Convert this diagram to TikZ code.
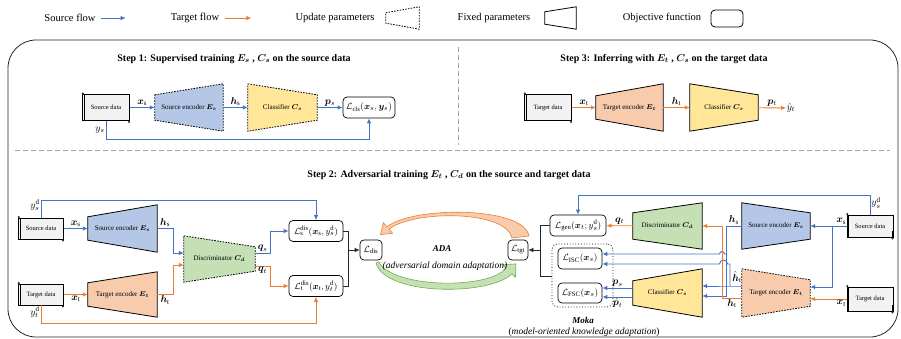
\documentclass[tikz,border=0pt]{standalone}
\usepackage{fontspec}
\setmainfont{Liberation Serif}
\usepackage{amsmath,bm}
\usetikzlibrary{arrows.meta,backgrounds}

\definecolor{sblue}{RGB}{68,114,196}
\definecolor{torange}{RGB}{237,125,49}
\definecolor{encblue}{RGB}{180,199,231}
\definecolor{encorange}{RGB}{248,203,173}
\definecolor{clsyellow}{RGB}{255,230,153}
\definecolor{discgreen}{RGB}{197,224,180}
\definecolor{adagreen}{RGB}{112,173,71}
\definecolor{datafill}{RGB}{242,242,242}

\newcommand{\fsz}[1]{\fontsize{#1}{#1}\selectfont}
% trapezoid behind a named node: #2 = inset of the left side, #3 = inset of the right side
\newcommand{\trapbox}[4]{\draw[#4] ([yshift=-#2]#1.north west) -- ([yshift=-#3]#1.north east) -- ([yshift=#3]#1.south east) -- ([yshift=#2]#1.south west) -- cycle;}
% paper roll look of a data box
\newcommand{\scrollcurl}[1]{%
  \draw[line width=0.4pt] ([xshift=1.8pt]#1.north west) -- ([xshift=1.8pt]#1.south west);
  \fill[black!80] ([shift={(0.6pt,0.6pt)}]#1.north west) circle[radius=1.2pt];
  \draw[line width=0.9pt] ([xshift=-0.8pt,yshift=-1pt]#1.south east) -- ([xshift=-0.8pt,yshift=6pt]#1.south east);
  \fill[black!80] ([shift={(-0.8pt,-1.2pt)}]#1.south east) circle[radius=1.1pt];}

\begin{document}
\begin{tikzpicture}[x=1pt,y=-1pt,
  legtxt/.style={font=\fsz{10.5}, inner sep=1pt},
  lbl/.style={font=\fsz{10}, inner sep=1pt},
  steptitle/.style={font=\fsz{10}\bfseries},
  datab/.style={draw, line width=0.6pt, fill=datafill, minimum width=47pt, minimum height=26pt, inner sep=0pt, font=\fsz{6.5}},
  obj/.style={draw, line width=0.7pt, rounded corners=4pt, fill=white, inner sep=1pt, minimum height=21pt, font=\fsz{9.5}},
  enc/.style={minimum width=68pt, minimum height=47pt, inner sep=0pt, font=\fsz{7}},
  flow/.style={line width=0.9pt, -{Latex[length=5pt,width=4.5pt]}},
  sflow/.style={flow, draw=sblue},
  tflow/.style={flow, draw=torange},
  kline/.style={draw=black!85, line width=0.7pt},
  kflow/.style={kline, -{Latex[length=5pt,width=4.5pt]}},
  updp/.style={draw=black, line width=0.8pt, dash pattern=on 1.6pt off 1.2pt},
  fixedp/.style={draw=black, line width=0.8pt},
  divline/.style={draw=gray!70, line width=0.6pt, dash pattern=on 5pt off 3pt}]
\useasboundingbox (0,0) rectangle (901,339);

%%%%%%%%%%%%%%%%%%%%%%%%%%%%%%% legend
\node[legtxt] (lgs) at (70,18) {Source flow};
\draw[sflow] ([xshift=4pt]lgs.east) -- ++(25,0);
\node[legtxt] (lgt) at (195,18) {Target flow};
\draw[tflow] ([xshift=5pt]lgt.east) -- ++(26,0);
\node[legtxt] (lgu) at (335,18) {Update parameters};
\node[minimum width=33pt, minimum height=22pt, inner sep=0pt] (lgup) at (402.5,18) {};
\node[legtxt] (lgf) at (494,18) {Fixed parameters};
\node[minimum width=31pt, minimum height=22pt, inner sep=0pt] (lgfx) at (560.5,18) {};
\node[legtxt] (lgo) at (662,18) {Objective function};
\node[draw, line width=0.8pt, rounded corners=4pt, minimum width=32pt, minimum height=17pt] (lgobj) at (727,18.5) {};

%%%%%%%%%%%%%%%%%%%%%%%%%%%%%%% frame
\draw[line width=0.8pt, black!85, rounded corners=28pt] (8,40) rectangle (898,337);
\draw[divline] (458,47) -- (458,145);
\draw[divline] (15,150) -- (890,150);

%%%%%%%%%%%%%%%%%%%%%%%%%%%%%%% Step 1
\node[steptitle] (t1) at (234,59) {Step 1: Supervised training $\bm{E_s}$ , $\bm{C_s}$ on the source data};
\node[datab] (sd1) at (106,107.5) {Source data};
\node[enc, minimum width=68pt] (se1) at (189,107.5) {Source encoder $\bm{E_s}$};
\node[enc, minimum width=69pt] (cs1) at (282.5,107.5) {Classifier $\bm{C_s}$};
\node[obj, minimum width=52pt] (lcls) at (369,107.5) {$\mathcal{L}_{\mathrm{cls}}(\bm{x}_s,\bm{y}_s)$};
\draw[sflow] (sd1) -- node[lbl, above]{$\bm{x}_{\mathrm{s}}$} (se1);
\draw[sflow] (se1) -- node[lbl, above]{$\bm{h}_{\mathrm{s}}$} (cs1);
\draw[sflow] (cs1) -- node[lbl, above]{$\bm{p}_s$} (lcls);
\draw[sflow] (sd1.south) -- node[lbl, left]{$y_s$} (sd1.south |- 0,139) -| (lcls.south);

%%%%%%%%%%%%%%%%%%%%%%%%%%%%%%% Step 3
\node[steptitle] (t3) at (664,59) {Step 3: Inferring with $\bm{E_t}$ , $\bm{C_s}$ on the target data};
\node[datab] (td3) at (548,107.5) {Target data};
\node[enc, minimum width=67pt] (te3) at (629.5,107.5) {Target encoder $\bm{E_t}$};
\node[enc, minimum width=68pt] (cs3) at (724,107.5) {Classifier $\bm{C_s}$};
\node[lbl, inner sep=0.5pt] (yhat) at (791,108) {$\hat{y}_t$};
\draw[tflow] (td3) -- node[lbl, above]{$\bm{x}_{\mathrm{t}}$} (te3);
\draw[tflow] (te3) -- node[lbl, above]{$\bm{h}_{\mathrm{t}}$} (cs3);
\draw[tflow] (cs3) -- node[lbl, above]{$\bm{p}_t$} (yhat);

%%%%%%%%%%%%%%%%%%%%%%%%%%%%%%% Step 2, left half
\node[steptitle] (t2) at (449,175) {Step 2: Adversarial training $\bm{E_t}$ , $\bm{C_d}$ on the source and target data};
\node[datab, minimum width=45pt, minimum height=21pt] (sd2) at (41,228.5) {Source data};
\node[enc, minimum width=69pt] (se2) at (122.5,228.5) {Source encoder $\bm{E_s}$};
\node[datab, minimum width=45pt, minimum height=21pt] (td2) at (41,294.5) {Target data};
\node[enc, minimum width=69pt, minimum height=45pt] (te2) at (122.5,294.5) {Target encoder $\bm{E_t}$};
\node[enc, minimum width=71pt, minimum height=46pt] (dc2) at (219.5,259) {Discriminator $\bm{C_d}$};
\node[obj, minimum width=54pt] (lsd) at (316,231) {$\mathcal{L}_{\mathrm{s}}^{\mathrm{dis}}(\bm{x}_{\mathrm{s}},y_s^{\mathrm{d}})$};
\node[obj, minimum width=54pt] (ltd) at (316,286) {$\mathcal{L}_{\mathrm{t}}^{\mathrm{dis}}(\bm{x}_{\mathrm{t}},y_t^{\mathrm{d}})$};
\node[obj, minimum width=22pt, minimum height=20pt] (ldis) at (371,250) {$\mathcal{L}_{\mathrm{dis}}$};
\node[obj, minimum width=20pt, minimum height=20pt] (ltgt) at (518,250) {$\mathcal{L}_{\mathrm{tgt}}$};
\draw[sflow] (sd2) -- node[lbl, above]{$\bm{x}_{\mathrm{s}}$} (se2);
\draw[sflow] (sd2.north) -- node[lbl, left, pos=0.7]{$y_s^{\mathrm{d}}$} (sd2.north |- 0,200) -| (lsd.north);
\draw[sflow] (se2.east) -- node[lbl, above]{$\bm{h}_{\mathrm{s}}$} (173,228.5) |- ([yshift=6pt]dc2.west);
\draw[tflow] (td2) -- node[lbl, below]{$\bm{x}_{\mathrm{t}}$} (te2);
\draw[tflow] (td2.south) -- node[lbl, left, pos=0.4]{$y_t^{\mathrm{d}}$} (td2.south |- 0,323) -| (ltd.south);
\draw[tflow] (te2.east) -- node[lbl, below]{$\bm{h}_{\mathrm{t}}$} (173,294.5) |- ([yshift=-6pt]dc2.west);
\draw[sflow] ([yshift=6pt]dc2.east) -- node[lbl, above]{$\bm{q}_s$} (270,253) |- (lsd.west);
\draw[tflow] ([yshift=-7pt]dc2.east) -- node[lbl, below]{$\bm{q}_t$} (270,266) |- (ltd.west);
\draw[kline] (lsd.east) -- (348,231) -- (348,286) -- (ltd.east);
\draw[kflow] (348,250) -- (ldis.west);

% ADA loop
\draw[torange, fill=encorange, line width=0.6pt] (529,236) .. controls (524,206) and (412,206) .. (387,226.9) -- (383.4,222.75) -- (380.5,234.6) -- (392.6,233.25) -- (389,229.1) .. controls (414,210) and (506,210) .. (512,238) -- cycle;
\draw[adagreen, fill=discgreen, line width=0.6pt] (376,263) .. controls (385,296) and (490,296) .. (511.8,273.8) -- (515.4,277.3) -- (516,263.9) -- (502.6,264.7) -- (506.2,268.2) .. controls (488,290) and (392,288) .. (379,262) -- cycle;
\node[font=\fsz{9}\bfseries\itshape] (ada) at (442,249) {ADA};
\node[font=\fsz{9.5}\itshape] (adat) at (445,266) {(adversarial domain adaptation)};

%%%%%%%%%%%%%%%%%%%%%%%%%%%%%%% Step 2, right half
\node[obj, minimum width=56pt] (lgen) at (578,225.5) {$\mathcal{L}_{\mathrm{gen}}(\bm{x}_t;y_s^{\mathrm{d}})$};
\node[draw, line width=0.8pt, dotted, rounded corners=6pt, minimum width=61pt, minimum height=63pt] (moka) at (582.5,275.5) {};
\node[obj, minimum width=44pt] (lisc) at (580,258.5) {$\mathcal{L}_{\mathrm{ISC}}(\bm{x}_s)$};
\node[obj, minimum width=44pt, minimum height=20pt] (lfsc) at (580,293) {$\mathcal{L}_{\mathrm{FSC}}(\bm{x}_s)$};
\node[font=\fsz{9}\bfseries\itshape] (mokat) at (583,320) {Moka};
\node[font=\fsz{9.5}] (mokal) at (584,332) {(\textit{model-oriented knowledge adaptation})};
\node[enc, minimum width=69pt, minimum height=46pt] (dcr) at (667.5,226) {Discriminator $\bm{C_d}$};
\node[enc, minimum width=69pt, minimum height=48pt] (csr) at (667.5,293) {Classifier $\bm{C_s}$};
\node[enc, minimum width=68pt, minimum height=46pt] (ser) at (776,226) {Source encoder $\bm{E_s}$};
\node[enc, minimum width=68pt, minimum height=48pt] (ter) at (776,293) {Target encoder $\bm{E_t}$};
\node[datab, minimum width=46pt, minimum height=22pt] (sdr) at (870,226) {Source data};
\node[datab, minimum width=46pt, minimum height=24pt] (tdr) at (870,299) {Target data};
\coordinate (jr) at (832,226);
\draw[sflow] (sdr) -- node[lbl, above, pos=0.15]{$\bm{x}_{\mathrm{s}}$} (ser);
\draw[sflow] (jr) |- ([yshift=6pt]ter.east);
\draw[tflow] (tdr.west) -- node[lbl, below, pos=0.15]{$\bm{x}_{\mathrm{t}}$} (tdr.west -| ter.east);
\draw[sflow] (sdr.north) -- node[lbl, right, pos=0.6]{$y_s^{\mathrm{d}}$} (sdr.north |- 0,195) -| (lgen.north);
\draw[sflow] (ser.west) -- node[lbl, above]{$\bm{h}_{\mathrm{s}}$} (726,226) -- (726,296) -- (csr.east |- 0,296);
\draw[sflow] (726,254) -- (724.5,254) arc[start angle=0, end angle=180, radius=2.5pt] -- (lisc.east |- 0,254);
\draw[sflow] (ter.west |- 0,286) -- (730,286) -- (csr.east |- 0,286);
\node[lbl] (hht) at (737,277) {$\hat{\bm{h}}_{\mathrm{t}}$};
\draw[sflow] (730,286) -- (730,264) -- (727.5,264) arc[start angle=0, end angle=180, radius=4pt] -- (lisc.east |- 0,264);
\draw[tflow] (ter.west |- 0,298) -- node[lbl, below]{$\bm{h}_{\mathrm{t}}$} (722,298) -- (722,226) -- (dcr.east);
\draw[tflow] (dcr) -- node[lbl, above]{$\bm{q}_t$} (lgen);
\draw[sflow] ([yshift=5pt]csr.west) -- node[lbl, above]{$\bm{p}_s$} ([yshift=5pt]lfsc.east);
\draw[sflow] ([yshift=-4pt]csr.west) -- node[lbl, below]{$\hat{\bm{p}}_t$} ([yshift=-4pt]lfsc.east);
\draw[kline] (lgen.west) -- (540,225.5) -- (540,276) -- (moka.west |- 0,276);
\draw[kflow] (540,250) -- (ltgt.east);

%%%%%%%%%%%%%%%%%%%%%%%%%%%%%%% data box rolls
\scrollcurl{sd1}
\scrollcurl{td3}
\scrollcurl{sd2}
\scrollcurl{td2}
\scrollcurl{sdr}
\scrollcurl{tdr}

%%%%%%%%%%%%%%%%%%%%%%%%%%%%%%% trapezoids
\begin{scope}[on background layer]
\trapbox{se1}{11pt}{0pt}{updp, fill=encblue}
\trapbox{cs1}{0pt}{11pt}{updp, fill=clsyellow}
\trapbox{te3}{12pt}{0pt}{fixedp, fill=encorange}
\trapbox{cs3}{0pt}{11pt}{fixedp, fill=clsyellow}
\trapbox{se2}{12pt}{0pt}{fixedp, fill=encblue}
\trapbox{te2}{11pt}{0pt}{fixedp, fill=encorange}
\trapbox{dc2}{0pt}{11pt}{updp, fill=discgreen}
\trapbox{dcr}{10pt}{0pt}{fixedp, fill=discgreen}
\trapbox{csr}{12pt}{0pt}{fixedp, fill=clsyellow}
\trapbox{ser}{0pt}{10pt}{fixedp, fill=encblue}
\trapbox{ter}{0pt}{11pt}{updp, fill=encorange}
\trapbox{lgup}{6pt}{0pt}{updp}
\trapbox{lgfx}{5pt}{0pt}{fixedp}
\end{scope}
\end{tikzpicture}
\end{document}
